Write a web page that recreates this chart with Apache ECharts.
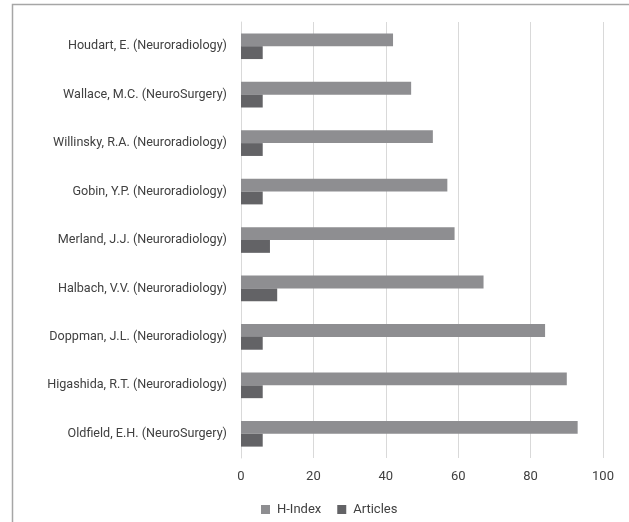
<!DOCTYPE html>
<html><head><meta charset="utf-8">
<script src="https://cdn.jsdelivr.net/npm/echarts@6/dist/echarts.min.js"></script>
<style>html,body{margin:0;padding:0;background:#fff}#c{width:629px;height:522px}</style>
</head><body><div id="c"></div>
<script>
const categories = [
  "Houdart, E. (Neuroradiology)",
  "Wallace, M.C. (NeuroSurgery)",
  "Willinsky, R.A. (Neuroradiology)",
  "Gobin, Y.P. (Neuroradiology)",
  "Merland, J.J. (Neuroradiology)",
  "Halbach, V.V. (Neuroradiology)",
  "Doppman, J.L. (Neuroradiology)",
  "Higashida, R.T. (Neuroradiology)",
  "Oldfield, E.H. (NeuroSurgery)"
];
const hIndex = [42, 47, 53, 57, 59, 67, 84, 90, 93];
const articles = [6, 6, 6, 6, 8, 10, 6, 6, 6];
const xTicks = [0, 20, 40, 60, 80, 100];

const chart = echarts.init(document.getElementById('c'), null, {renderer: 'canvas'});
chart.setOption({
  animation: false,
  textStyle: {fontFamily: 'Roboto'},
  graphic: [{
    type: 'rect', silent: true,
    shape: {x: 12.5, y: 4.5, width: 800, height: 800},
    style: {fill: 'none', stroke: '#a6a6a6', lineWidth: 1.5}
  }],
  grid: {left: 241, right: 26, top: 22, bottom: 64, containLabel: false},
  legend: {
    left: 256, top: 498, itemWidth: 9, itemHeight: 9, itemGap: 16, icon: 'rect',
    textStyle: {fontSize: 13, color: '#404040', fontFamily: 'Roboto', padding: [0, 0, 0, 2]},
    data: ['H-Index', 'Articles']
  },
  xAxis: {
    type: 'value', min: xTicks[0], max: xTicks[xTicks.length - 1], interval: 20,
    axisLine: {show: false}, axisTick: {show: false},
    axisLabel: {fontSize: 13, color: '#404040', margin: 12, fontFamily: 'Roboto'},
    splitLine: {lineStyle: {color: '#d9d9d9', width: 1}}
  },
  yAxis: {
    type: 'category', data: categories, inverse: true,
    axisLine: {show: true, lineStyle: {color: '#d9d9d9'}}, axisTick: {show: false},
    axisLabel: {fontSize: 12.6, color: '#404040', margin: 14, fontFamily: 'Roboto'}
  },
  series: [
    {name: 'H-Index', type: 'bar', data: hIndex, barGap: '0%', barCategoryGap: '47%',
     itemStyle: {color: '#8e8e91'}},
    {name: 'Articles', type: 'bar', data: articles, barGap: '0%', barCategoryGap: '47%',
     itemStyle: {color: '#636366'}}
  ]
});
</script></body></html>
